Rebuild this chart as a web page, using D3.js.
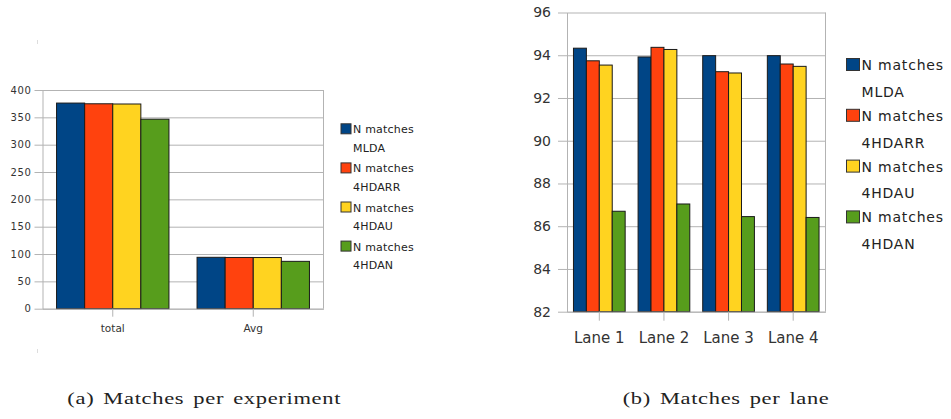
<!DOCTYPE html>
<html>
<head>
<meta charset="utf-8">
<script src="https://cdn.jsdelivr.net/npm/d3@7"></script>
<style>
  html, body { margin: 0; padding: 0; background: #fff; }
  svg { display: block; }
</style>
</head>
<body>
<script>
// Series shared by both panels
const seriesKeys = ["MLDA", "4HDARR", "4HDAU", "4HDAN"];
const seriesPrefix = "N matches";
const seriesColors = ["#004586", "#ff420e", "#ffd320", "#579d1c"];

// Panel (a): matches per experiment
const experimentCategories = ["total", "Avg"];
const mldaPerExperiment   = [376.1, 94.0];
const arrPerExperiment    = [374.8, 93.7];
const auPerExperiment     = [374.4, 93.6];
const anPerExperiment     = [346.6, 86.6];
const experimentTicks = [0, 50, 100, 150, 200, 250, 300, 350, 400];

// Panel (b): matches per lane
const laneCategories = ["Lane 1", "Lane 2", "Lane 3", "Lane 4"];
const mldaPerLane = [94.33, 93.92, 93.98, 93.98];
const arrPerLane  = [93.74, 94.37, 93.23, 93.59];
const auPerLane   = [93.54, 94.27, 93.17, 93.48];
const anPerLane   = [86.70, 87.04, 86.45, 86.41];
const laneTicks = [82, 84, 86, 88, 90, 92, 94, 96];

const captions = ["(a) Matches per experiment", "(b) Matches per lane"];

const W = 951, H = 419;
const svg = d3.select("body").append("svg").attr("width", W).attr("height", H);
svg.append("rect").attr("width", W).attr("height", H).attr("fill", "#fff");

const gridColor = "#b3b3b3";
const font = "'DejaVu Sans', sans-serif";

function drawPanel(p) {
  const g = svg.append("g");
  const y = d3.scaleLinear().domain(p.domain).range([p.bottom, p.top]);
  const x = d3.scaleBand().domain(p.categories).range([p.left, p.right]);
  const inner = d3.scaleBand().domain(seriesKeys)
    .range([x.bandwidth() * 0.1, x.bandwidth() * 0.9]);

  // y axis with gridlines across the plot
  const yAxis = g.append("g").attr("transform", `translate(${p.left},0)`)
    .call(d3.axisLeft(y).tickValues(p.ticks).tickSizeInner(-(p.right - p.left)).tickSizeOuter(0).tickPadding(0));
  yAxis.select(".domain").attr("stroke", gridColor);
  yAxis.selectAll(".tick line").attr("stroke", gridColor).attr("x1", -p.tickLen);
  yAxis.selectAll(".tick text")
    .attr("x", -p.labelGap).attr("fill", "#333")
    .style("font-family", font).style("font-size", p.tickFont + "px")
    .style("letter-spacing", (p.tickSpacing || 0) + "px");

  // right frame line
  g.append("line").attr("x1", p.right).attr("x2", p.right)
    .attr("y1", p.top).attr("y2", p.bottom).attr("stroke", gridColor);

  // bars
  const seriesData = p.series;
  p.categories.forEach((c, ci) => {
    seriesKeys.forEach((k, si) => {
      const v = seriesData[si][ci];
      g.append("rect")
        .attr("x", x(c) + inner(k))
        .attr("y", y(v))
        .attr("width", inner.bandwidth())
        .attr("height", y(p.domain[0]) - y(v))
        .attr("fill", seriesColors[si])
        .attr("stroke", "#1a1a1a").attr("stroke-width", 1);
    });
  });

  // x axis with ticks at category centres
  const xAxis = g.append("g").attr("transform", `translate(0,${p.bottom})`)
    .call(d3.axisBottom(x).tickSize(p.tickLen).tickSizeOuter(0).tickPadding(p.catPad));
  xAxis.select(".domain").attr("stroke", gridColor);
  xAxis.selectAll(".tick line").attr("stroke", gridColor);
  xAxis.selectAll(".tick text").attr("fill", "#333")
    .style("font-family", font).style("font-size", p.catFont + "px");

  // legend
  const lg = g.append("g");
  seriesKeys.forEach((k, i) => {
    const base = p.legendY + i * p.legendStep;
    lg.append("rect")
      .attr("x", p.legendX).attr("y", base - p.swatchH + 0.5)
      .attr("width", p.swatchW).attr("height", p.swatchH)
      .attr("fill", seriesColors[i]).attr("stroke", "#333").attr("stroke-width", 1);
    const t = lg.append("text")
      .attr("x", p.legendX + p.swatchW + 2).attr("y", base)
      .attr("fill", "#222")
      .style("font-family", font).style("font-size", p.legendFont + "px")
      .style("letter-spacing", (p.legendSpacing || 0) + "px");
    t.append("tspan").text(seriesPrefix);
    t.append("tspan").attr("x", p.legendX + p.swatchW + 2).attr("dy", p.legendLine).text(k);
  });
}

drawPanel({
  categories: experimentCategories,
  series: [mldaPerExperiment, arrPerExperiment, auPerExperiment, anPerExperiment],
  domain: [0, 400], ticks: experimentTicks,
  left: 42.5, right: 323.5, top: 90, bottom: 308.7,
  tickLen: 8, labelGap: 11, tickFont: 10, tickSpacing: 0.6,
  catPad: 8, catFont: 10.5,
  legendX: 341, legendY: 133.3, legendStep: 39.1, legendLine: 18.4,
  swatchW: 10, swatchH: 10, legendFont: 11, legendSpacing: 0.2
});

drawPanel({
  categories: laneCategories,
  series: [mldaPerLane, arrPerLane, auPerLane, anPerLane],
  domain: [82, 96], ticks: laneTicks,
  left: 567, right: 825.5, top: 12.5, bottom: 311.7,
  tickLen: 9, labelGap: 16, tickFont: 14, tickSpacing: 0,
  catPad: 12, catFont: 15,
  legendX: 846.5, legendY: 70, legendStep: 50.8, legendLine: 26.7,
  swatchW: 13, swatchH: 12, legendFont: 14, legendSpacing: 0.8
});

// faint crop marks beside panel (a)
[[40, 44], [349, 353]].forEach(([a, b]) => {
  svg.append("line").attr("x1", 37.5).attr("x2", 37.5).attr("y1", a).attr("y2", b)
    .attr("stroke", "#ddd").attr("stroke-width", 1);
});

// captions: serif text, widened horizontally to the caption width
const capSpec = [
  { text: captions[0], x: 67.3, len: 274 },
  { text: captions[1], x: 622.7, len: 207 }
];
capSpec.forEach(c => {
  const t = svg.append("text")
    .attr("x", 0).attr("y", 0)
    .attr("fill", "#222")
    .style("font-family", "'Liberation Serif', 'DejaVu Serif', serif")
    .style("font-size", "16.5px")
    .style("letter-spacing", "0.5px")
    .style("word-spacing", "2px")
    .text(c.text);
  const natural = t.node().getComputedTextLength();
  const sx = c.len / natural;
  t.attr("transform", `translate(${c.x},404) scale(${sx},1)`);
});
</script>
</body>
</html>
